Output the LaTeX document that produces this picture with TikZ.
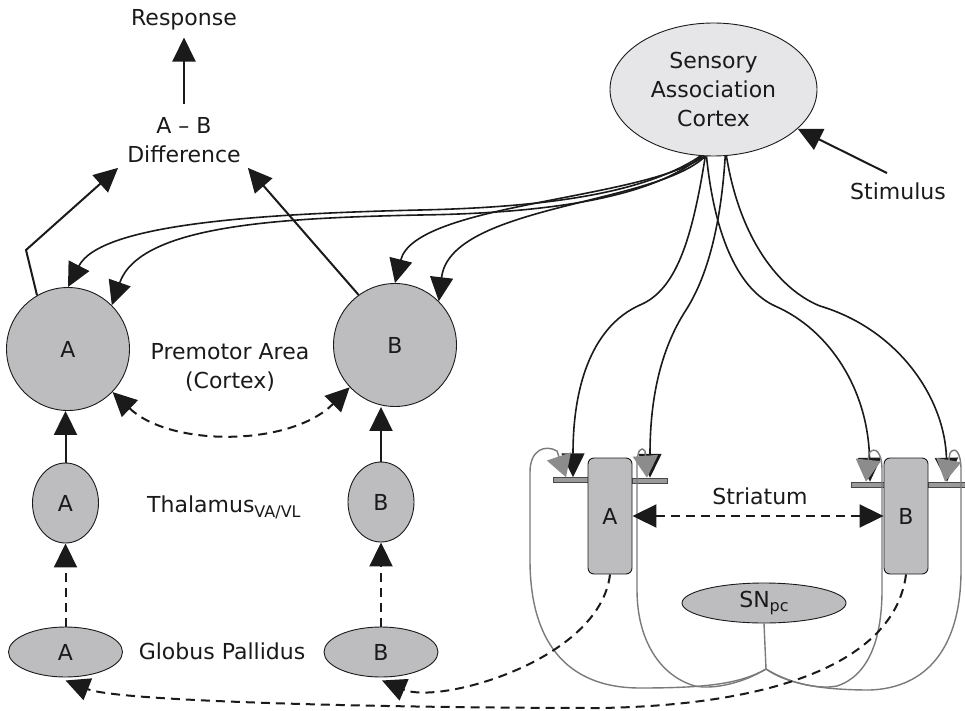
\documentclass[tikz,border=0pt]{standalone}
\usepackage{fontspec}
\setmainfont{DejaVu Sans}
\usetikzlibrary{arrows.meta,shapes.geometric}
\definecolor{ink}{HTML}{1A1A1A}
\definecolor{cellgray}{HTML}{BDBDC0}
\definecolor{cortexgray}{HTML}{E6E6E8}
\definecolor{dopa}{HTML}{7A7A7A}
\definecolor{dopafill}{HTML}{8C8C8C}
\definecolor{barfill}{HTML}{9A9A9A}
\begin{document}
\begin{tikzpicture}[x=1pt,y=-1pt,
  every node/.style={font=\fontsize{22}{29}\selectfont, text=ink},
  cell/.style={draw=ink, line width=0.9pt, fill=cellgray, inner sep=0pt},
  bigcell/.style={cell, circle, minimum size=123pt},
  thal/.style={cell, ellipse, minimum width=66pt, minimum height=80pt},
  pall/.style={cell, ellipse, minimum width=114pt, minimum height=50pt},
  strbox/.style={cell, rectangle, rounded corners=6pt, minimum width=44pt, minimum height=116pt},
  synbar/.style={rectangle, draw=ink!80, line width=0.5pt, fill=barfill, minimum height=5pt, inner sep=0pt},
  txt/.style={align=center, inner sep=0pt},
  bighead/.style={-{Triangle[length=24pt,width=23pt]}},
  twoheads/.style={{Triangle[length=24pt,width=23pt]}-{Triangle[length=24pt,width=23pt]}},
  conn/.style={draw=ink, line width=2pt, bighead},
  dashconn/.style={conn, dash pattern=on 9pt off 6pt},
  fibre/.style={draw=ink, line width=1.6pt, bighead},
  dopastem/.style={draw=dopa, line width=1.4pt},
  dopaline/.style={dopastem, -{Triangle[length=22pt,width=25pt,color=dopafill]}},
]
% canvas
\path[fill=white] (0,0) rectangle (965,711);
\useasboundingbox (0,0) rectangle (965,711);

% ---- output side
\node[txt] (resp) at (184,20) {Response};
\node[txt] (diff) at (184,140) {A – B\\Difference};

% ---- premotor cortex
\node[bigcell] (pmA) at (68,349) {A};
\node[bigcell] (pmB) at (395,345) {B};
\node[txt] (pmlab) at (230,367) {Premotor Area\\(Cortex)};

% ---- thalamus
\node[thal] (thA) at (65.5,503) {A};
\node[thal] (thB) at (381,502) {B};
\node[txt, anchor=base west] (thlab) at (147,512)
  {Thalamus\raisebox{-5pt}{\fontsize{16}{16}\selectfont VA/VL}};

% ---- globus pallidus
\node[pall] (gpA) at (65.5,652) {A};
\node[pall] (gpB) at (381,652) {B};
\node[txt, anchor=base] (gplab) at (222,659) {Globus Pallidus};

% ---- sensory association cortex and stimulus
\node[cell, ellipse, fill=cortexgray, minimum width=207pt, minimum height=133pt, align=center]
  (sac) at (713.5,89.5) {Sensory\\Association\\Cortex};
\node[txt, anchor=base] (stim) at (898,200) {Stimulus};

% ---- striatum synaptic bars
\node[synbar, minimum width=35pt] (barAL) at (571,480) {};
\node[synbar, minimum width=35pt] (barAR) at (650,480.5) {};
\node[synbar, minimum width=33pt] (barBL) at (868,484.5) {};
\node[synbar, minimum width=37pt] (barBR) at (947,484.5) {};

% ---- striatum and substantia nigra
\node[strbox] (strA) at (610,516) {A};
\node[strbox] (strB) at (906,516) {B};
\node[txt] (strlab) at (760,496) {Striatum};
\node[cell, ellipse, minimum width=164pt, minimum height=40pt] (snpc) at (764,603)
  {SN\raisebox{-4pt}{\fontsize{16}{16}\selectfont pc}};
\coordinate (jn) at (766,669);

% ---- motor output path
\draw[conn] ([yshift=13pt]diff.north) -- ([yshift=-7pt]resp.south);
\coordinate (kinkA) at (26,250);
\draw[conn] (pmA.120) -- (kinkA) -- ([xshift=-9pt,yshift=-5pt]diff.south west);
\draw[conn] (pmB.126) -- ([xshift=7pt,yshift=-5pt]diff.south east);

% ---- mutual inhibition in premotor cortex
\draw[dashconn, twoheads] (pmA.-44) .. controls (170,447) and (290,447) .. (pmB.-137);

% ---- thalamus -> cortex, pallidum -> thalamus
\draw[conn] (thA.north) -- (thA.north |- pmA.south);
\draw[conn] (thB.north) -- (thB.north |- pmB.south);
\draw[dashconn] (gpA.north) -- (thA.south);
\draw[dashconn] (gpB.north) -- (thB.south);

% ---- stimulus
\draw[conn] ([xshift=-11pt,yshift=10pt]stim.north) -- (sac.-25);

% ---- cortical projections to premotor area
\draw[fibre] (sac.-101) .. controls (650,190) and (560,207) .. (420,210)
  .. controls (250,214) and (100,225) .. (pmA.north);
\draw[fibre] (sac.-100) .. controls (655,195) and (560,213) .. (420,215)
  .. controls (280,218) and (140,225) .. (pmA.45);
\draw[fibre] (sac.-98) .. controls (645,200) and (415,203) .. (pmB.north);
\draw[fibre] (sac.-97) .. controls (655,205) and (450,205) .. (pmB.45);

% ---- cortical projections to striatum
\draw[fibre] (sac.-97) .. controls (692,240) and (676,290) .. (640,305)
  .. controls (595,325) and (573,380) .. ([xshift=2pt]barAL.north);
\draw[fibre] (sac.-80) .. controls (720,240) and (702,285) .. (686,310)
  .. controls (660,350) and (650,400) .. (barAR.north);
\draw[fibre] (sac.-96) .. controls (715,240) and (740,290) .. (775,306)
  .. controls (830,330) and (868,390) .. ([xshift=2pt]barBL.north);
\draw[fibre] (sac.-79) .. controls (740,240) and (780,290) .. (820,306)
  .. controls (900,330) and (945,400) .. (barBR.north);

% ---- dopaminergic loops from SNpc
\draw[dopastem] (snpc.south) -- (jn);
\draw[dopaline] (jn) .. controls (740,684) and (705,688) .. (640,688)
  .. controls (565,688) and (530,640) .. (530,560) -- (530,472)
  .. controls (530,450) and (545,444) .. (557,451) -- ([xshift=-5pt]barAL.north);
\draw[dopaline] (jn) .. controls (745,682) and (715,690) .. (695,686)
  .. controls (660,676) and (637,640) .. (637,590) -- (637,466)
  .. controls (637,450) and (641,446) .. (645,451) -- ([xshift=-3pt]barAR.north);
\draw[dopaline] (jn) .. controls (787,682) and (817,690) .. (837,686)
  .. controls (868,676) and (882,640) .. (882,590) -- (882,470)
  .. controls (882,452) and (875,446) .. (869,453) -- ([xshift=-2pt]barBL.north);
\draw[dopaline] (jn) .. controls (790,686) and (830,690) .. (870,690)
  .. controls (925,688) and (961,650) .. (961,570) -- (961,470)
  .. controls (961,452) and (955,446) .. (950,453) -- ([xshift=-2pt]barBR.north);

% ---- lateral inhibition in striatum
\draw[dashconn, twoheads] (strA.east) -- (strB.west);

% ---- striatal output to pallidum
\draw[dashconn] (strA.south) .. controls (600,660) and (440,705) .. ([xshift=1pt,yshift=-3pt]gpB.south);
\draw[dashconn] (strB.south) .. controls (895,660) and (780,705) .. (600,708)
  .. controls (400,708) and (120,702) .. ([yshift=-3pt]gpA.south);
\end{tikzpicture}
\end{document}
